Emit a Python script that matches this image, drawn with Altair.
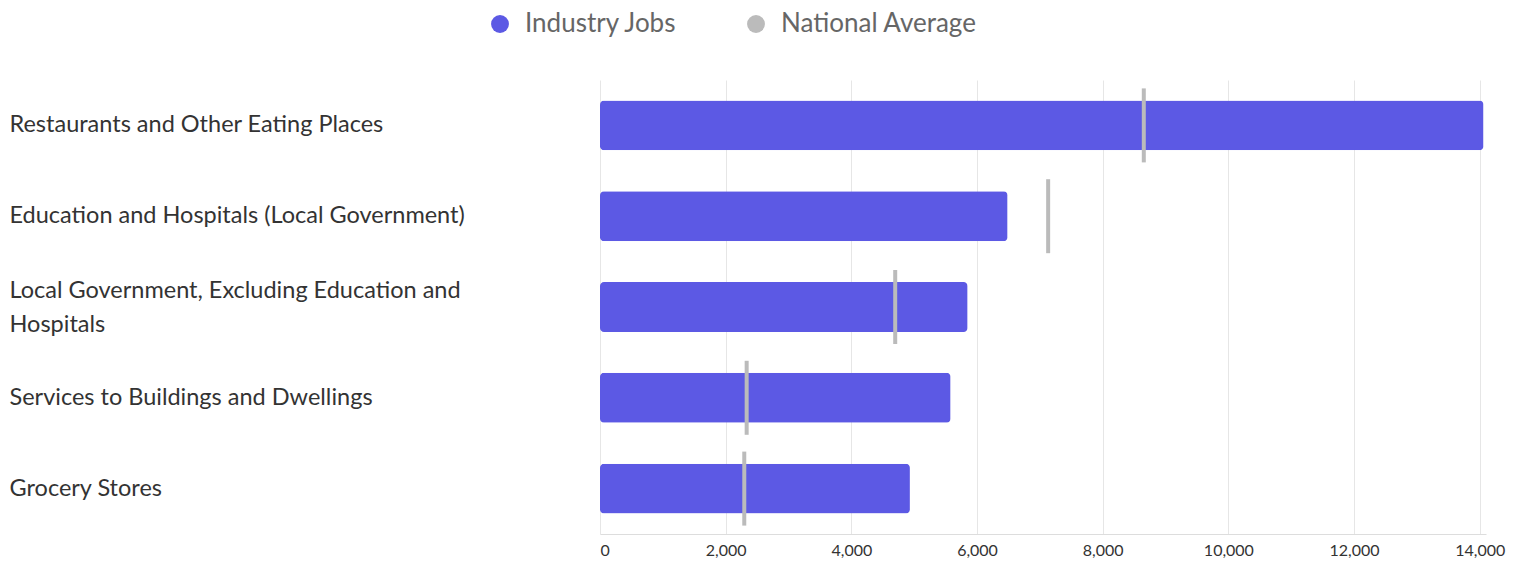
import altair as alt
import pandas as pd

categories = [
    "Restaurants and Other Eating Places",
    "Education and Hospitals (Local Government)",
    "Local Government, Excluding Education and Hospitals",
    "Services to Buildings and Dwellings",
    "Grocery Stores",
]
industry_jobs = [14060, 6486, 5850, 5579, 4932]
national_average = [8654, 7132, 4698, 2334, 2296]
series_names = ["Industry Jobs", "National Average"]
series_colors = ["#5c59e4", "#bbbbbb"]
x_ticks = [0, 2000, 4000, 6000, 8000, 10000, 12000, 14000]

rows = []
for c, v in zip(categories, industry_jobs):
    rows.append({"category": c, "series": series_names[0], "value": v})
for c, v in zip(categories, national_average):
    rows.append({"category": c, "series": series_names[1], "value": v})
df = pd.DataFrame(rows)

FONT = "Lato"
LONG = "Local Government, Excluding Education and Hospitals"

color = alt.Color(
    "series:N",
    scale=alt.Scale(domain=series_names, range=series_colors),
    legend=alt.Legend(
        title=None,
        orient="none",
        direction="horizontal",
        legendX=-113,
        legendY=-69,
        symbolType="circle",
        symbolSize=320,
        symbolStrokeWidth=0,
        symbolOpacity=1,
        labelFont=FONT,
        labelFontSize=26,
        labelColor="#666666",
        labelLimit=400,
        columnPadding=66,
        labelOffset=12,
    ),
)

y = alt.Y(
    "category:N",
    sort=categories,
    title=None,
    scale=alt.Scale(paddingInner=0.45, paddingOuter=0.225),
    axis=alt.Axis(
        labelAlign="left",
        labelPadding=591,
        ticks=False,
        domain=False,
        labelFont=FONT,
        labelFontSize=23.5,
        labelColor="#333333",
        labelLimit=600,
        labelLineHeight=34,
        labelOffset={"condition": {"test": f"datum.value == '{LONG}'", "value": -16}, "value": 0},
        labelExpr=f"datum.label == '{LONG}' ? ['Local Government, Excluding Education and', 'Hospitals'] : datum.label",
    ),
)

x = alt.X(
    "value:Q",
    title=None,
    scale=alt.Scale(domain=[0, 14100], nice=False),
    axis=alt.Axis(
        values=x_ticks,
        format=",d",
        ticks=False,
        domain=True,
        domainColor="#dddddd",
        gridColor="#e6e6e6",
        labelFont=FONT,
        labelFontSize=16,
        labelColor="#333333",
        labelPadding=8,
    ),
)

bars = (
    alt.Chart(df)
    .transform_filter(alt.datum.series == series_names[0])
    .mark_bar(cornerRadius=4)
    .encode(y=y, x=x, color=color)
)

ticks = (
    alt.Chart(df)
    .transform_filter(alt.datum.series == series_names[1])
    .mark_tick(thickness=4, size=74, opacity=1)
    .encode(y=y, x=x, color=color)
)

chart = (
    alt.layer(bars, ticks)
    .properties(
        width=886,
        height=454,
        autosize=alt.AutoSizeParams(type="none"),
        padding={"left": 600, "top": 80, "right": 40, "bottom": 28},
    )
    .configure_view(stroke=None)
)

chart.save("out.html", embed_options={"renderer": "svg", "actions": False})
